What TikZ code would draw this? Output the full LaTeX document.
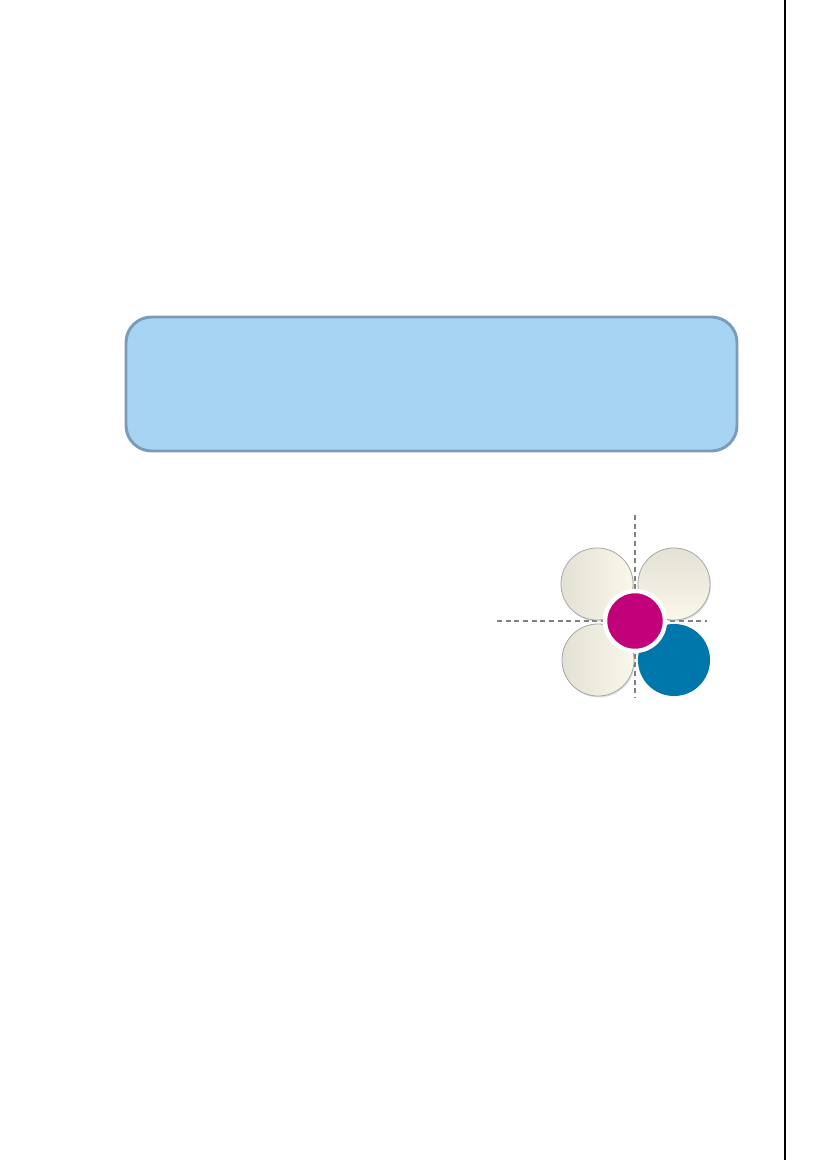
\documentclass[tikz,border=0pt]{standalone}
\usepackage{tikz}
\usetikzlibrary{shapes,positioning,shadows}
\definecolor{boxblue}{HTML}{A8D4F4}
\definecolor{boxedge}{HTML}{7A9CB8}
\definecolor{petallight}{HTML}{FAF8EA}
\definecolor{petaldark}{HTML}{E3E1D4}
\definecolor{deepblue}{HTML}{0077AA}
\definecolor{magenta}{HTML}{C2007A}

\begin{document}
\begin{tikzpicture}[x=0.254mm, y=-0.254mm,
  box_style/.style={draw=boxedge, fill=boxblue, line width=0.75mm, rounded corners=6.5mm},
  guide_style/.style={draw=gray, line width=0.4mm, dash pattern=on 1.3mm off 0.9mm},
  petal_style/.style={circle, draw=gray!70, line width=0.2mm, minimum size=18.3mm, inner sep=0pt,
    drop shadow={opacity=0.25, shadow xshift=0.25mm, shadow yshift=-0.35mm}},
  hub_style/.style={circle, draw=white, fill=magenta, line width=1.1mm, minimum size=15.2mm, inner sep=0pt}]

  \useasboundingbox (0,0) rectangle (827,1169);
  \fill[white] (0,0) rectangle (827,1169);

  % page edge
  \draw[black, line width=0.35mm] (785,0) -- (785,1160);

  % blue panel
  \draw[box_style] (126,317) rectangle (737,451);

  % crossing guides
  \coordinate (gtop) at (635,515);
  \coordinate (gbot) at (635,697);
  \coordinate (gleft) at (497,621);
  \coordinate (gright) at (707,621);
  \draw[guide_style] (gtop) -- (gbot);
  \draw[guide_style] (gleft) -- (gright);

  % petals
  \node (p1) [petal_style, left color=petaldark, right color=petallight] at (597,584) {};
  \node (p2) [petal_style, top color=petaldark, bottom color=petallight] at (674,584) {};
  \node (p3) [petal_style, left color=petaldark, right color=petallight] at (598,660) {};
  \node (p4) [circle, fill=deepblue, minimum size=18.3mm, inner sep=0pt] at (674,660) {};
  %
  \node (hub) [hub_style] at (635,621) {};
\end{tikzpicture}
\end{document}
